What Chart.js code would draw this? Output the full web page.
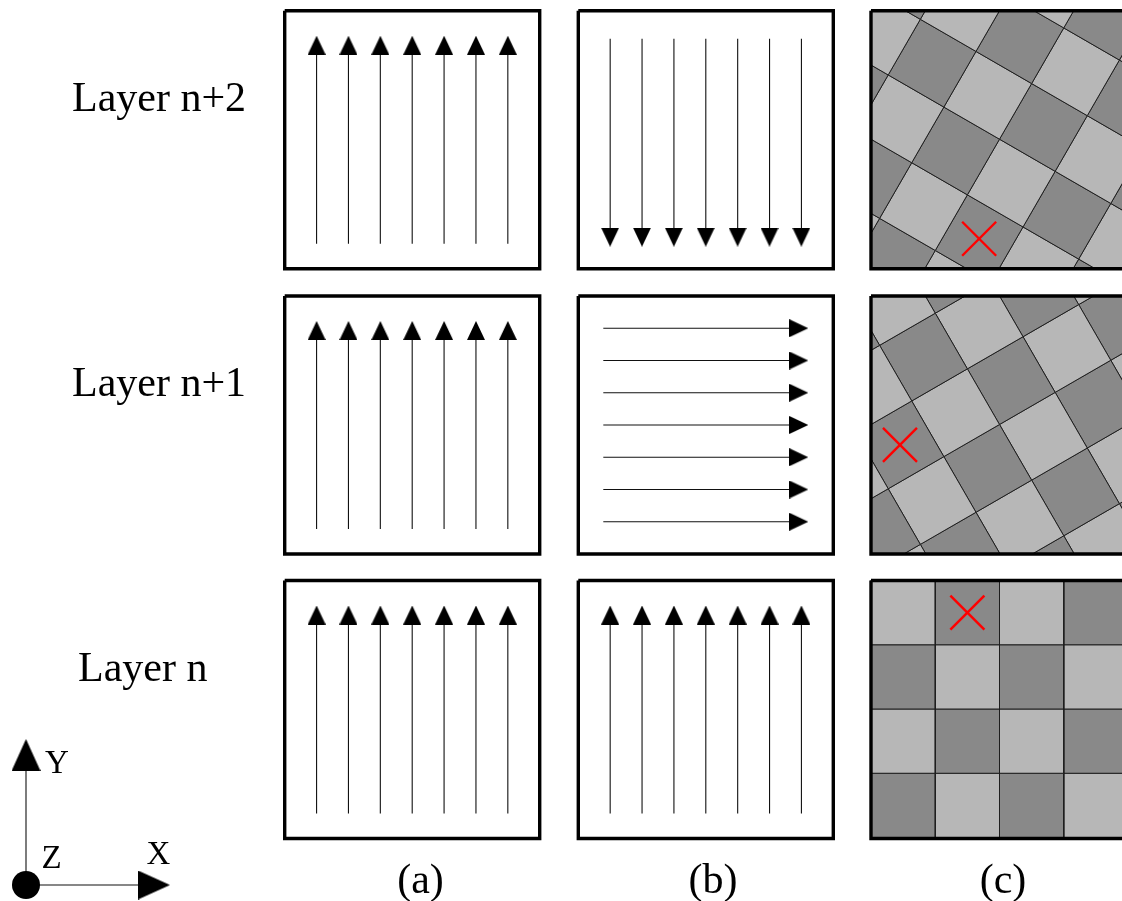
<!DOCTYPE html>
<html>
<head>
<meta charset="utf-8">
<title>Layer-wise scan strategies</title>
<script src="https://cdn.jsdelivr.net/npm/chart.js@4.4.1/dist/chart.umd.min.js"></script>
<style>
  html, body { margin: 0; padding: 0; background: #ffffff; overflow: hidden; }
  canvas { display: block; }
</style>
</head>
<body>
<canvas id="scan" width="1122" height="901"></canvas>
<script>
// ---- content -------------------------------------------------------------
// Layers, top row first
const layerNames = ['Layer n+2', 'Layer n+1', 'Layer n'];
// Strategy captions under the three columns
const columnLabels = ['(a)', '(b)', '(c)'];
// Hatch direction of the seven scan vectors, per layer
const scanA = ['up', 'up', 'up'];
const scanB = ['down', 'right', 'up'];
const vectorsPerPanel = 7;
// Island (checkerboard) strategy: 4 x 4 islands, rotated per layer (deg, clockwise)
const islandsPerSide = 4;
const islandAngles = [30, -30, 0];
// Island [column, row] marked with a red cross, in the unrotated island grid
const markedIslands = [[2, 3], [0, 1], [1, 0]];
// Coordinate triad labels
const axisNames = ['X', 'Y', 'Z'];

// ---- layout (page units = CSS pixels) ---------------------------------------
const W = 1122, H = 901;
const colX = [284.7, 578.3, 871];     // left edge of each column's frame
const rowY = [10.7, 296, 580.5];      // top edge of each layer's frame
const boxW = 255, boxH = 258;
const cell = 64.25;                   // island edge length
const tipInset = 25, tailInset = 25;
const downShift = 3;                  // downward vectors sit a little lower in their frame
const layerLabelX = [72, 72, 78];
const captionX = [420.5, 713, 1003];
const captionBaseline = 893;
const triad = { ox: 26, oy: 885, yTip: 739, xTip: 170 };

const LIGHT = '#b7b7b7', DARK = '#898989', EDGE = '#1e1e1e', INK = '#111111', CROSS = '#ff0000';

// ---- helpers -------------------------------------------------------------
function headImage(w, h) {
  const c = document.createElement('canvas');
  c.width = w; c.height = h;
  const g = c.getContext('2d');
  g.fillStyle = '#000';
  g.beginPath();
  g.moveTo(w / 2, 0); g.lineTo(w, h); g.lineTo(0, h);
  g.closePath(); g.fill();
  return c;
}
const smallHead = headImage(18, 19);
const triadHead = headImage(29, 32);

const datasets = [];
function path(points, opts) {
  datasets.push(Object.assign({
    type: 'line',
    data: points.map(p => ({ x: p[0], y: p[1] })),
    pointRadius: 0, pointHoverRadius: 0, tension: 0,
    fill: false, clip: false, spanGaps: false
  }, opts));
}
function heads(points, img, rotations, order) {
  datasets.push({
    type: 'line', showLine: false, clip: false, order: order,
    data: points.map(p => ({ x: p[0], y: p[1] })),
    pointStyle: img, pointRadius: 4, pointHoverRadius: 4,
    pointRotation: rotations
  });
}

const DIRS = {
  up:    { dx: 0, dy: -1, rot: 0 },
  down:  { dx: 0, dy: 1,  rot: 180 },
  right: { dx: 1, dy: 0,  rot: 90 }
};

// Seven parallel scan vectors inside one frame
function hatchPanel(left, top, dirName) {
  const d = DIRS[dirName];
  const tips = [], rots = [];
  for (let k = 1; k <= vectorsPerPanel; k++) {
    let tail, tip;
    if (d.dx === 0) {
      const x = left + boxW * k / (vectorsPerPanel + 1);
      if (d.dy < 0) {
        tail = [x, top + boxH - tailInset];
        tip = [x, top + tipInset];
      } else {
        tail = [x, top + tailInset + downShift];
        tip = [x, top + boxH - tipInset + downShift];
      }
    } else {
      const y = top + boxH * k / (vectorsPerPanel + 1);
      tail = [left + tailInset, y];
      tip  = [left + boxW - tipInset, y];
    }
    const hh = smallHead.height;
    const centre = [tip[0] - d.dx * hh / 2, tip[1] - d.dy * hh / 2];
    path([tail, centre], { borderColor: INK, borderWidth: 1.1, order: 3 });
    tips.push(centre); rots.push(d.rot);
  }
  heads(tips, smallHead, rots, 2);
}

function clipHalf(pts, axis, bound, keepGreater) {
  const out = [];
  const inside = p => keepGreater ? p[axis] >= bound : p[axis] <= bound;
  for (let i = 0; i < pts.length; i++) {
    const a = pts[i], b = pts[(i + 1) % pts.length];
    const ia = inside(a), ib = inside(b);
    if (ia) out.push(a);
    if (ia !== ib) {
      const t = (bound - a[axis]) / (b[axis] - a[axis]);
      out.push([a[0] + t * (b[0] - a[0]), a[1] + t * (b[1] - a[1])]);
    }
  }
  return out;
}
function clipToBox(pts, x0, y0, x1, y1) {
  let p = clipHalf(pts, 0, x0, true);
  p = clipHalf(p, 0, x1, false);
  p = clipHalf(p, 1, y0, true);
  p = clipHalf(p, 1, y1, false);
  return p;
}

// Island grid rotated about its own centre and cut to the frame
function islandPanel(left, top, angle, marked) {
  const cx = left + cell * islandsPerSide / 2, cy = top + cell * islandsPerSide / 2;
  const a = angle * Math.PI / 180, c = Math.cos(a), s = Math.sin(a);
  const rot = (px, py) => {
    const dx = px - cx, dy = py - cy;
    return [cx + dx * c - dy * s, cy + dx * s + dy * c];
  };
  const x1 = left + cell * islandsPerSide, y1 = top + boxH;
  for (let i = -3; i < islandsPerSide + 3; i++) {
    for (let j = -3; j < islandsPerSide + 3; j++) {
      const x = left + i * cell, y = top + j * cell;
      const corners = [rot(x, y), rot(x + cell, y), rot(x + cell, y + cell), rot(x, y + cell)];
      const clipped = clipToBox(corners, left, top, x1, y1);
      if (clipped.length < 3) continue;
      const even = ((i + j) % 2 + 2) % 2 === 0;
      path(clipped.concat([clipped[0]]), {
        fill: 'shape', backgroundColor: even ? LIGHT : DARK,
        borderColor: EDGE, borderWidth: 1, order: 6
      });
    }
  }
  // red cross on the marked island (drawn upright)
  const m = rot(left + (marked[0] + 0.5) * cell, top + (marked[1] + 0.5) * cell);
  const r = 17;
  path([[m[0] - r, m[1] - r], [m[0] + r, m[1] + r]], { borderColor: CROSS, borderWidth: 2.4, order: 4 });
  path([[m[0] - r, m[1] + r], [m[0] + r, m[1] - r]], { borderColor: CROSS, borderWidth: 2.4, order: 4 });
}

function frame(left, top, width) {
  const r = left + width, b = top + boxH;
  path([[left, top], [r, top], [r, b], [left, b], [left, top]],
       { borderColor: '#000', borderWidth: 3.4, borderJoinStyle: 'miter', order: 1 });
}

// ---- build the three rows --------------------------------------------------
layerNames.forEach((_, row) => {
  hatchPanel(colX[0], rowY[row], scanA[row]);
  hatchPanel(colX[1], rowY[row], scanB[row]);
  islandPanel(colX[2], rowY[row], islandAngles[row], markedIslands[row]);
  frame(colX[0], rowY[row], boxW);
  frame(colX[1], rowY[row], boxW);
  frame(colX[2], rowY[row], cell * islandsPerSide);
});

// coordinate triad: X and Y arrows with Z as a dot at the origin
path([[triad.ox, triad.oy], [triad.ox, triad.yTip + triadHead.height / 2]], { borderColor: INK, borderWidth: 1.1, order: 3 });
path([[triad.ox, triad.oy], [triad.xTip - triadHead.height / 2, triad.oy]], { borderColor: INK, borderWidth: 1.1, order: 3 });
heads([[triad.ox, triad.yTip + triadHead.height / 2], [triad.xTip - triadHead.height / 2, triad.oy]],
      triadHead, [0, 90], 2);
datasets.push({
  type: 'line', showLine: false, clip: false, order: 2,
  data: [{ x: triad.ox, y: triad.oy }],
  pointStyle: 'circle', pointRadius: 14, pointHoverRadius: 14,
  pointBackgroundColor: '#000', pointBorderColor: '#000', pointBorderWidth: 0
});

// ---- text --------------------------------------------------------------
const textPlugin = {
  id: 'diagramText',
  afterDatasetsDraw(chart) {
    const { ctx, scales: { x, y } } = chart;
    ctx.save();
    ctx.fillStyle = '#000';
    ctx.textBaseline = 'alphabetic';
    ctx.font = '42px "Liberation Serif", "Times New Roman", serif';
    ctx.textAlign = 'left';
    layerNames.forEach((name, row) => {
      ctx.fillText(name, x.getPixelForValue(layerLabelX[row]), y.getPixelForValue(rowY[row] + 100));
    });
    ctx.textAlign = 'center';
    columnLabels.forEach((lab, col) => {
      ctx.fillText(lab, x.getPixelForValue(captionX[col]), y.getPixelForValue(captionBaseline));
    });
    ctx.font = '33px "Liberation Serif", "Times New Roman", serif';
    ctx.textAlign = 'left';
    ctx.fillText(axisNames[0], x.getPixelForValue(146.5), y.getPixelForValue(864));
    ctx.fillText(axisNames[1], x.getPixelForValue(45), y.getPixelForValue(773));
    ctx.fillText(axisNames[2], x.getPixelForValue(41.5), y.getPixelForValue(867.5));
    ctx.restore();
  }
};

new Chart(document.getElementById('scan'), {
  type: 'line',
  data: { datasets: datasets },
  options: {
    responsive: false,
    animation: false,
    events: [],
    layout: { padding: 0, autoPadding: false },
    scales: {
      x: { type: 'linear', min: 0, max: W, display: false },
      y: { type: 'linear', min: 0, max: H, reverse: true, display: false }
    },
    plugins: { legend: { display: false }, tooltip: { enabled: false } }
  },
  plugins: [textPlugin]
});
</script>
</body>
</html>
